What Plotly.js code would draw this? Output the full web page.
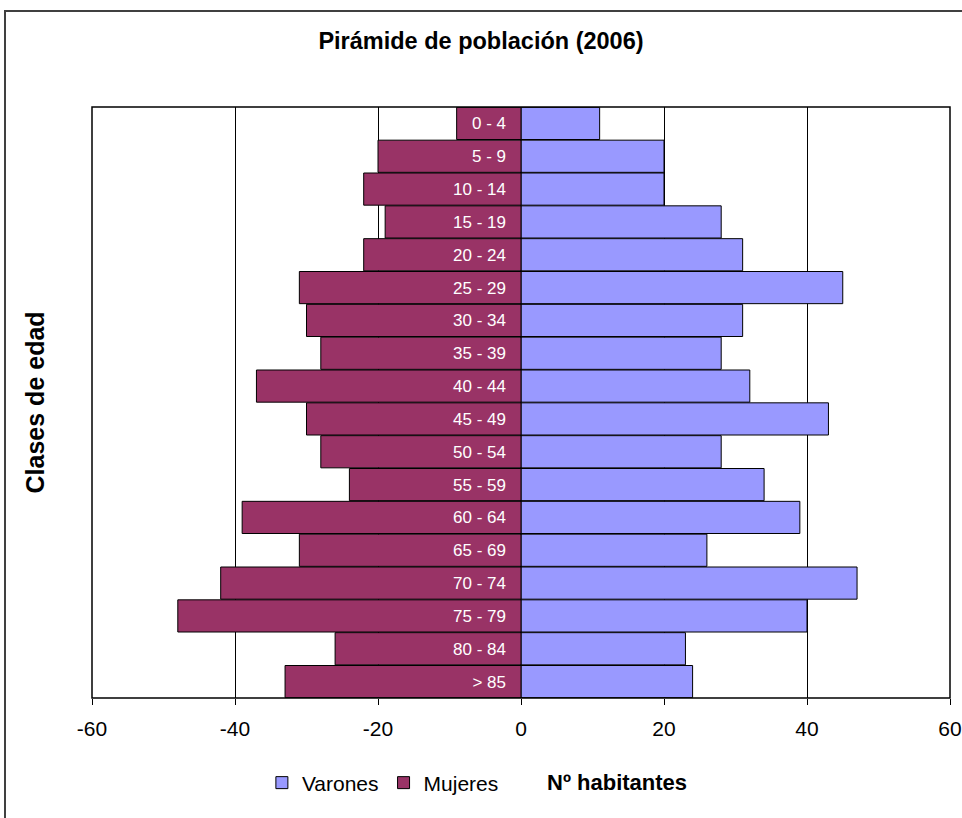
<!DOCTYPE html>
<html>
<head>
<meta charset="utf-8">
<script src="https://cdn.plot.ly/plotly-3.0.1.min.js"></script>
<style>html,body{margin:0;padding:0;background:#fff;}#chart{width:962px;height:818px;}</style>
</head>
<body>
<div id="chart"></div>
<script>
var ageClasses = ['0 - 4','5 - 9','10 - 14','15 - 19','20 - 24','25 - 29','30 - 34','35 - 39','40 - 44','45 - 49','50 - 54','55 - 59','60 - 64','65 - 69','70 - 74','75 - 79','80 - 84','> 85'];
var varones = [11, 20, 20, 28, 31, 45, 31, 28, 32, 43, 28, 34, 39, 26, 47, 40, 23, 24];
var mujeres = [-9, -20, -22, -19, -22, -31, -30, -28, -37, -30, -28, -24, -39, -31, -42, -48, -26, -33];
var xTickVals = [-60, -40, -20, 0, 20, 40, 60];
var xTickText = ['-60', '-40', '-20', '0', '20', '40', '60'];

var font = 'Arial, "Liberation Sans", sans-serif';

var traces = [
  {type: 'bar', orientation: 'h', name: 'Varones', y: ageClasses, x: varones,
   marker: {color: '#9999FF', line: {color: '#000000', width: 1}}},
  {type: 'bar', orientation: 'h', name: 'Mujeres', y: ageClasses, x: mujeres,
   marker: {color: '#993366', line: {color: '#000000', width: 1}}}
];

var layout = {
  width: 962, height: 818,
  margin: {l: 92, r: 12, t: 107, b: 120},
  paper_bgcolor: '#ffffff', plot_bgcolor: '#ffffff',
  barmode: 'relative', bargap: 0.02,
  font: {family: font, color: '#000000', size: 21},
  title: {text: '<b>Pirámide de población (2006)</b>', x: 0.5, xanchor: 'center', y: 0.95, yanchor: 'middle',
          font: {family: font, size: 23.5, color: '#000'}},
  xaxis: {range: [-60, 60], tickvals: xTickVals, ticktext: xTickText, ticks: 'outside', ticklen: 6,
          tickcolor: '#000', showgrid: true, gridcolor: '#000', gridwidth: 1,
          zeroline: true, zerolinecolor: '#000', zerolinewidth: 2, ticklabelstandoff: 6,
          ticklabeloverflow: 'allow', automargin: false,
          showline: false, tickfont: {size: 21, family: font}, fixedrange: true},
  yaxis: {type: 'category', categoryorder: 'array', categoryarray: ageClasses, autorange: 'reversed',
          anchor: 'free', position: 0.5, showline: false, ticks: '', showgrid: false,
          ticklabelstandoff: 15, tickfont: {size: 17, color: '#ffffff', family: font}, fixedrange: true},
  showlegend: true,
  legend: {orientation: 'h', x: 0.198, y: -0.1438, xanchor: 'left', yanchor: 'middle',
           font: {size: 21, family: font}, itemwidth: 30, traceorder: 'normal', bgcolor: 'rgba(0,0,0,0)'},
  shapes: [
    {type: 'rect', xref: 'paper', yref: 'paper', x0: 0, x1: 1, y0: 0, y1: 1,
     line: {color: '#000', width: 1.5}, fillcolor: 'rgba(0,0,0,0)', layer: 'above'},
    {type: 'rect', xref: 'paper', yref: 'paper', x0: -0.1014, x1: 1.2, y0: -0.4, y1: 1.1624,
     line: {color: '#404040', width: 2}, fillcolor: 'rgba(0,0,0,0)', layer: 'below'}
  ],
  annotations: [
    {text: '<b>Clases de edad</b>', xref: 'paper', yref: 'paper', x: -0.0665, y: 0.5, textangle: -90,
     showarrow: false, font: {size: 25, family: font}, xanchor: 'center', yanchor: 'middle'},
    {text: '<b>Nº habitantes</b>', xref: 'paper', yref: 'paper', x: 0.612, y: -0.1438,
     showarrow: false, font: {size: 22, family: font}, xanchor: 'center', yanchor: 'middle'}
  ]
};

Plotly.newPlot('chart', traces, layout, {displayModeBar: false, staticPlot: true});
</script>
</body>
</html>
